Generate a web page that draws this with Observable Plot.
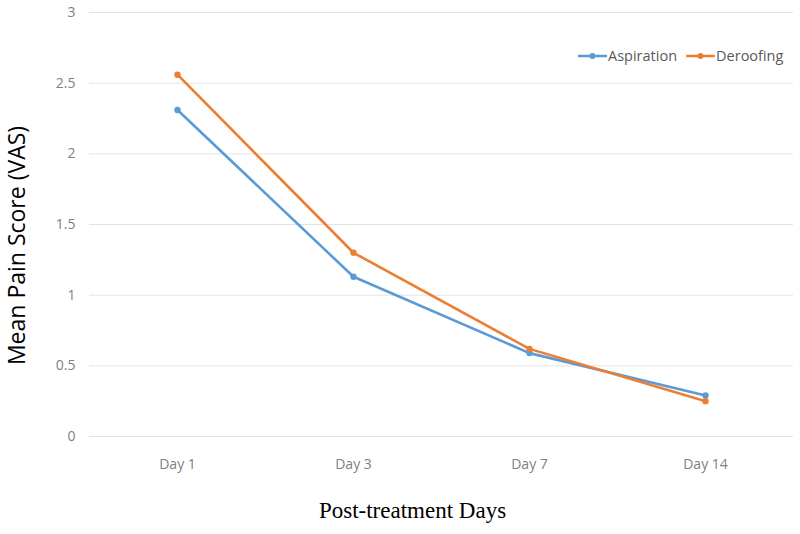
<!DOCTYPE html>
<html>
<head>
<meta charset="utf-8">
<script src="https://cdn.jsdelivr.net/npm/d3@7"></script>
<script src="https://cdn.jsdelivr.net/npm/@observablehq/plot@0.6"></script>
<style>
  html, body { margin: 0; padding: 0; background: #fff; }
  #wrap { position: relative; width: 800px; height: 534px; }
  #legend { position: absolute; left: 578px; top: 46px; font: 14.5px "Open Sans", sans-serif; color: #595959; display: flex; gap: 9px; align-items: center; }
  #legend span.item { display: inline-flex; align-items: center; gap: 1px; }
</style>
</head>
<body>
<div id="wrap"></div>
<script>
const days = ["Day 1", "Day 3", "Day 7", "Day 14"];
const aspiration = [2.31, 1.13, 0.59, 0.29];
const deroofing = [2.56, 1.30, 0.62, 0.25];
const seriesNames = ["Aspiration", "Deroofing"];
const seriesColors = ["#5b9bd5", "#ed7d31"];
const yTicks = [0, 0.5, 1, 1.5, 2, 2.5, 3];

const data = [];
days.forEach((d, i) => {
  data.push({day: d, value: aspiration[i], series: seriesNames[0]});
  data.push({day: d, value: deroofing[i], series: seriesNames[1]});
});

const chart = Plot.plot({
  width: 800,
  height: 534,
  marginLeft: 89,
  marginRight: 7,
  marginTop: 12,
  marginBottom: 98,
  style: {fontFamily: "'Open Sans', sans-serif", fontSize: "14px", color: "#7f7f7f", background: "#fff"},
  x: {type: "point", domain: days, padding: 0.5, label: null},
  y: {domain: [0, 3], label: null},
  color: {domain: seriesNames, range: seriesColors},
  marks: [
    Plot.ruleY(yTicks, {stroke: "#e3e3e3", strokeWidth: 1}),
    Plot.axisY({ticks: yTicks, tickSize: 0, tickPadding: 14, tickFormat: d => String(d), fill: "#7f7f7f", fontSize: 14}),
    Plot.axisX({tickSize: 0, tickPadding: 23, fill: "#7f7f7f", fontSize: 14}),
    Plot.line(data, {x: "day", y: "value", stroke: "series", strokeWidth: 2.6}),
    Plot.dot(data, {x: "day", y: "value", fill: "series", r: 3.2}),
    Plot.text(["Mean Pain Score (VAS)"], {frameAnchor: "left", textAnchor: "middle", rotate: -90, dx: -72, dy: 21, fontSize: 23, fill: "#000", fontFamily: "'Open Sans', sans-serif"}),
    Plot.text(["Post-treatment Days"], {frameAnchor: "bottom", dy: 81, dx: -29, fontSize: 23, fill: "#000", fontFamily: "'Liberation Serif', serif"})
  ]
});

const wrap = document.getElementById("wrap");
wrap.appendChild(chart);

const legend = document.createElement("div");
legend.id = "legend";
seriesNames.forEach((name, i) => {
  const item = document.createElement("span");
  item.className = "item";
  item.innerHTML = `<svg width="29" height="10"><line x1="0" y1="5" x2="29" y2="5" stroke="${seriesColors[i]}" stroke-width="2.5"/><circle cx="14.5" cy="5" r="3" fill="${seriesColors[i]}"/></svg><span>${name}</span>`;
  legend.appendChild(item);
});
wrap.appendChild(legend);
</script>
</body>
</html>
